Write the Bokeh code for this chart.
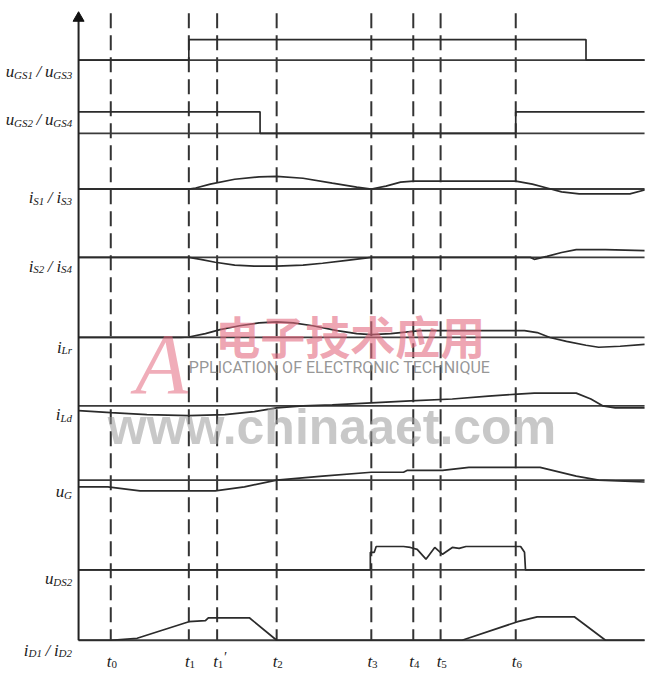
from bokeh.plotting import figure
from bokeh.models import Range1d
from bokeh.core.properties import value
from bokeh.embed import file_html
from bokeh.resources import INLINE

# ---------------- data (time axis in drawing units) ----------------
event_x = [113, 193, 222, 283, 380, 423, 451, 528]
event_sub = ["0", "1", "1", "2", "3", "4", "5", "6"]
event_sup = ["", "", "′", "", "", "", "", ""]

axis_x = 80
x_end = 660
axis_top = 12

row_base = [61, 136, 193, 263, 345, 415, 491, 583, 655]

# waveforms: x positions and amplitudes (upwards) relative to row baseline
uGS13_x = [80, 193, 193, 600, 600, 660]
uGS13_a = [0, 0, 21, 21, 0, 0]

uGS24_x = [80, 266, 266, 528, 528, 660]
uGS24_a = [22, 22, 0, 0, 22, 22]

iS13_x = [80, 193, 200, 215, 240, 265, 283, 310, 340, 365, 380, 395, 410, 423, 528, 545, 560, 575, 593, 645, 660]
iS13_a = [0, 0, 1, 5, 10, 12.5, 13, 11, 6, 2, 0, 3, 7, 8, 8, 5, 1, -3, -5, -5, -1]

iS24_x = [80, 193, 205, 220, 240, 260, 283, 310, 330, 355, 380, 543, 547, 560, 575, 590, 620, 660]
iS24_a = [0, 0, -2, -5, -8, -9, -9, -8, -6, -3, 0, 0, -2, 1, 5, 8, 8, 7]

iLr_x = [80, 185, 193, 210, 225, 245, 265, 283, 300, 320, 345, 365, 380, 400, 430, 537, 550, 563, 580, 600, 613, 635, 660]
iLr_a = [0, 0, 0.5, 4, 8, 12, 15, 16, 15, 12, 7, 4, 3, 4, 7, 7, 5, 0, -4, -8, -10, -9, -7]

iLd_x = [80, 113, 150, 193, 230, 260, 283, 310, 340, 380, 420, 463, 500, 530, 547, 590, 605, 617, 630, 660]
iLd_a = [-5, -7, -9, -10, -9, -6, -2, 0, 1, 3, 5, 7, 10, 12, 13, 13, 7, 0, -2, -2]

uG_x = [80, 110, 143, 220, 250, 283, 330, 380, 413, 417, 453, 480, 553, 590, 613, 660]
uG_a = [-7, -7, -11, -11, -7, 0, 4, 8, 8, 10, 10, 13, 13, 4, 0, -2]

uDS2_x = [80, 379, 379, 383, 385, 413, 420, 427, 436, 445, 453, 463, 470, 477, 533, 537, 538, 660]
uDS2_a = [0, 0, 18, 18, 24, 24, 23, 21, 11, 23, 16, 23, 22, 24, 24, 18, 0, 0]

iD_x = [80, 113, 140, 193, 210, 213, 255, 283, 455, 473, 530, 550, 588, 620, 660]
iD_a = [0, 0, 2, 19, 20, 23, 23, 0, 0, 0, 19, 24, 24, 0, 0]

waves_x = [uGS13_x, uGS24_x, iS13_x, iS24_x, iLr_x, iLd_x, uG_x, uDS2_x, iD_x]
waves_a = [uGS13_a, uGS24_a, iS13_a, iS24_a, iLr_a, iLd_a, uG_a, uDS2_a, iD_a]

# row labels: (text, kind) m=main, s=subscript, g=gap
row_labels = [
    [("u", "m"), ("GS1", "s"), ("/", "g"), ("u", "m"), ("GS3", "s")],
    [("u", "m"), ("GS2", "s"), ("/", "g"), ("u", "m"), ("GS4", "s")],
    [("i", "m"), ("S1", "s"), ("/", "g"), ("i", "m"), ("S3", "s")],
    [("i", "m"), ("S2", "s"), ("/", "g"), ("i", "m"), ("S4", "s")],
    [("i", "m"), ("Lr", "s")],
    [("i", "m"), ("Ld", "s")],
    [("u", "m"), ("G", "s")],
    [("u", "m"), ("DS2", "s")],
    [("i", "m"), ("D1", "s"), ("/", "g"), ("i", "m"), ("D2", "s")],
]
row_label_y = [73, 122, 202, 272, 355, 424, 503, 592, 665]
tick_label_y = 677

# ---------------- figure ----------------
W, H = 646, 671
REF_W, REF_H = 662, 687
p = figure(width=W, height=H, output_backend="svg", toolbar_location=None,
           x_range=Range1d(0, REF_W), y_range=Range1d(REF_H, 0),
           x_axis_location=None, y_axis_location=None, min_border=0)
p.grid.visible = False
p.outline_line_color = None
p.background_fill_color = "white"

LINE = "#2b2b2b"

# dashed event lines
for ex in event_x:
    p.line([ex, ex], [axis_top + 1, row_base[-1]], line_color="#333333",
           line_width=2, line_dash="15 7")

# baselines
for b in row_base:
    p.line([axis_x, x_end], [b, b], line_color="#3a3a3a", line_width=1.8)

# waveforms
for b, xs, amps in zip(row_base, waves_x, waves_a):
    p.line(xs, [b - a for a in amps], line_color=LINE, line_width=1.7)

# vertical axis with arrow
p.line([axis_x, axis_x], [row_base[-1], axis_top + 8], line_color="#222222", line_width=2)
p.scatter([axis_x], [axis_top + 6], marker="triangle", size=11, color="#111111")

# ---------------- labels ----------------
EM = {"u": 0.5, "i": 0.278, "t": 0.278, "G": 0.722, "S": 0.5, "L": 0.556,
      "D": 0.722, "r": 0.389, "d": 0.5, "/": 0.278, "′": 0.2}
MAIN_SZ, SUB_SZ = 17, 11
SERIF = value("Liberation Serif")
SIZES = {"m": MAIN_SZ, "s": SUB_SZ, "p": 14, "g": MAIN_SZ}
DYS = {"m": 0, "s": 3, "p": -4, "g": 0}
PAD = {"g": 4}


def part_w(s, k):
    return sum(EM.get(c, 0.5) for c in s) * SIZES[k] + 2 * PAD.get(k, 0)


def rich(x, y, parts, align="right"):
    total = sum(part_w(s, k) for s, k in parts)
    cur = x - total if align == "right" else x
    for s, k in parts:
        style = "normal" if (k in ("s", "p") and s.isdigit()) else "italic"
        p.text(x=[cur + PAD.get(k, 0)], y=[y + DYS[k]], text=[s], text_align="left",
               text_baseline="alphabetic", text_font=SERIF,
               text_font_size=f"{SIZES[k]}px", text_font_style=style,
               text_color="#1a1a1a")
        cur += part_w(s, k)


for parts, ly in zip(row_labels, row_label_y):
    rich(73, ly, parts)

for ex, sub, sup in zip(event_x, event_sub, event_sup):
    parts = [("t", "m"), (sub, "s")]
    if sup:
        parts.append((sup, "p"))
    rich(ex - 4, tick_label_y, parts, align="left")

# ---------------- watermark ----------------
p.text(x=[138], y=[372], text=["A"], text_font=SERIF, text_font_style="italic",
       text_font_size="86px", text_color="#e36a80", text_alpha=0.55,
       text_baseline="alphabetic", text_align="left")
p.text(x=[220], y=[343], text=["电子技术应用"], text_font=value("Noto Sans CJK SC"),
       text_font_size="45px", text_font_style="bold", text_color="#e36a80",
       text_alpha=0.6, text_baseline="alphabetic", text_align="left")
p.text(x=[193], y=[376], text=["PPLICATION OF ELECTRONIC TECHNIQUE"],
       text_font=value("Roboto"), text_font_size="16px", text_color="#7a7a7a",
       text_alpha=0.8, text_baseline="alphabetic", text_align="left")
p.text(x=[110], y=[437], text=["www.chinaaet.com"],
       text_font=value("Liberation Sans"), text_font_size="50px",
       text_font_style="bold", text_color="#9a9a9a", text_alpha=0.55,
       text_baseline="alphabetic", text_align="left")

open("out.html", "w").write(file_html(p, INLINE))
